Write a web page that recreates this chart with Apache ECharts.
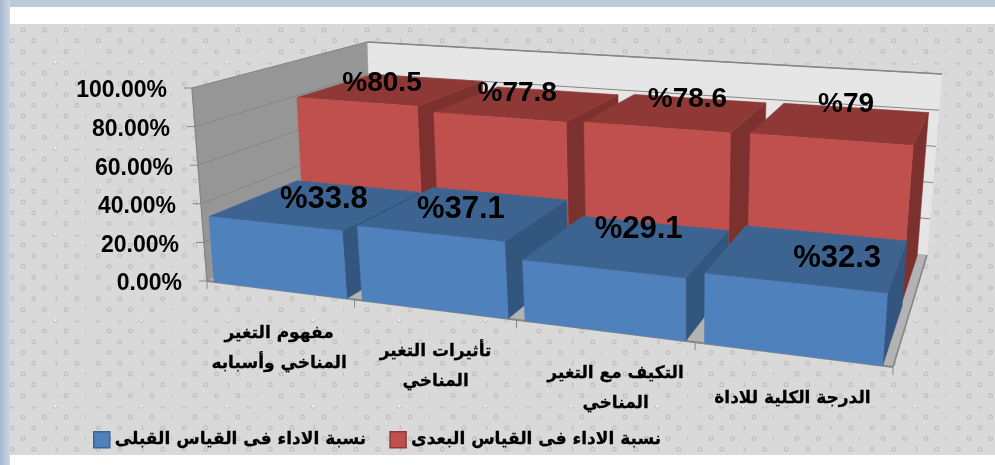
<!DOCTYPE html>
<html><head><meta charset="utf-8">
<style>html,body{margin:0;padding:0;background:#fff}#c{width:995px;height:465px}</style>
<script src="https://cdn.jsdelivr.net/npm/echarts@6/dist/echarts.min.js"></script>
</head><body><div id="c"></div>
<script>
var categories = ['مفهوم التغير\nالمناخي وأسبابه','تأثيرات التغير\nالمناخي','التكيف مع التغير\nالمناخي','الدرجة الكلية للاداة'];
var beforeName = 'نسبة الاداء فى القياس القبلى';
var afterName = 'نسبة الاداء فى القياس البعدى';
var beforeValues = [33.8,37.1,29.1,32.3];
var afterValues = [80.5,77.8,78.6,79];
var yTicks = [0,20,40,60,80,100];

// projection frame: floor and top corners of the 3D box (front-left, front-right, back-right, back-left)
var FLOOR=[[207,281],[893,367],[927,255],[372,202]];
var TOP=[[192,88],[909,143],[942,74],[367,42]];
var GRID={left:207,top:88,width:686,height:193};

function homog(q){
  var x0=q[0][0],y0=q[0][1],x1=q[1][0],y1=q[1][1],x2=q[2][0],y2=q[2][1],x3=q[3][0],y3=q[3][1];
  var dx1=x1-x2,dx2=x3-x2,sx=x0-x1+x2-x3,dy1=y1-y2,dy2=y3-y2,sy=y0-y1+y2-y3;
  var det=dx1*dy2-dx2*dy1;
  var g=(sx*dy2-dx2*sy)/det,h=(dx1*sy-sx*dy1)/det;
  var a=x1-x0+g*x1,b=x3-x0+h*x3,c=x0,d=y1-y0+g*y1,e=y3-y0+h*y3,f=y0;
  return function(u,v){var w=g*u+h*v+1;return [(a*u+b*v+c)/w,(d*u+e*v+f)/w];};
}
var H0=homog(FLOOR),H1=homog(TOP);
function P(u,d,h){var a=H0(u,d),b=H1(u,d);return [a[0]+(b[0]-a[0])*h,a[1]+(b[1]-a[1])*h];}
function poly(pts,fill,stroke,lw){return {type:'polygon',shape:{points:pts},style:{fill:fill,stroke:stroke||fill,lineWidth:lw==null?0.6:lw},silent:true};}
function line(a,b,c,w){return {type:'line',shape:{x1:a[0],y1:a[1],x2:b[0],y2:b[1]},style:{stroke:c,lineWidth:w||1,fill:null},silent:true};}

function tile(){
  var c=document.createElement('canvas');c.width=86;c.height=86;var x=c.getContext('2d');
  x.fillStyle='#d9d9d9';x.fillRect(0,0,86,86);
  x.lineWidth=1.2;
  for(var r=0;r<8;r++){
    var y=(30+10.75*r)%86, x0=(r%2?12.25:23);
    for(var k=0;k<4;k++){
      var px=x0+21.5*k;
      x.strokeStyle='#c0c0c0';
      x.beginPath();
      if(r===3){x.arc(px,y,1.9,0,Math.PI);}
      else if(r%2&&k===2){x.arc(px,y,1.9,-Math.PI/2,Math.PI/2);}
      else {x.arc(px,y,1.9,0,Math.PI*2);}
      x.stroke();
      if(r===3&&k===2){x.fillStyle='#f4f4f4';x.fillRect(px-1,y-1,2,2);}
    }
  }
  return c;
}

function barRender(row,frac,labelFont,offsets,cols){
  return function(params,api){
    var i=api.value(0),v=api.value(1);
    var p=api.coord([i,v]),band=api.size([1,0])[0];
    var u0=(p[0]-band*frac/2-GRID.left)/GRID.width,u1=(p[0]+band*frac/2-GRID.left)/GRID.width;
    var h=(GRID.top+GRID.height-p[1])/GRID.height;
    var d0=row[0],d1=row[1];
    var fb0=P(u0,d0,0),fb1=P(u1,d0,0),ft0=P(u0,d0,h),ft1=P(u1,d0,h),bt0=P(u0,d1,h),bt1=P(u1,d1,h),bb1=P(u1,d1,0);
    var c=P((u0+u1)/2,(d0+d1)/2,h);
    return {type:'group',children:[
      poly([fb1,bb1,bt1,ft1],cols[2]),
      poly([ft0,ft1,bt1,bt0],cols[1]),
      poly([fb0,fb1,ft1,ft0],cols[0]),
      {type:'text',z2:10,style:{x:c[0]+offsets[i][0],y:c[1]+offsets[i][1],text:'%'+v,font:labelFont,fill:'#000',align:'center',verticalAlign:'middle'}}
    ]};
  };
}
function wallRender(params,api){
  var ch=[];
  var L=[P(0,0,0),P(0,0,1),P(0,1,1),P(0,1,0)];
  var B=[P(0,1,0),P(0,1,1),P(1,1,1),P(1,1,0)];
  var F=[P(0,0,0),P(1,0,0),P(1,1,0),P(0,1,0)];
  ch.push(poly(B,'#e6e6e6','#e6e6e6'));
  ch.push(poly(L,'#969696','#969696'));
  ch.push(poly(F,'#b3b3b3','#b3b3b3'));
  yTicks.forEach(function(t){
    var y=api.coord([0,t])[1],h=(GRID.top+GRID.height-y)/GRID.height;
    var a=P(0,0,h),b=P(0,1,h),c=P(1,1,h);
    ch.push(line([a[0]-8,a[1]],a,'#868686',1));
    if(t>0&&t<100)ch.push(line(a,b,'#868686',1));
    if(t>0)ch.push(line(b,c,'#868686',1));
  });
  ch.push(line(P(0,0,0),P(0,0,1),'#868686',1.4));
  ch.push(line(P(0,0,1),P(0,1,1),'#868686',1));
  ch.push(line(P(0,1,1),P(1,1,1),'#868686',1.4));
  ch.push(line(P(0,0,0),P(1,0,0),'#868686',2));
  ch.push(line(P(1,0,0),P(1,1,0),'#868686',1.6));
  for(var i=0;i<=categories.length;i++){
    var u=i/categories.length,a=P(u,0,0);
    ch.push(line(a,[a[0],a[1]+8],'#868686',1));
  }
  return {type:'group',children:ch};
}
var catOffsets=[[0,59],[2,57],[12,58],[1,44]];
function catRender(params,api){
  var i=api.value(0),p=api.coord([i,0]);
  var a=P((p[0]-GRID.left)/GRID.width,0,0);
  return {type:'text',style:{x:a[0]+catOffsets[i][0],y:a[1]+catOffsets[i][1],text:categories[i],font:'bold 17px "DejaVu Sans"',lineHeight:30,fill:'#000',stroke:'#000',lineWidth:0.3,align:'center',verticalAlign:'middle'}};
}

var blueCols=['#4f81bd','#3d6491','#33567f'];
var redCols=['#c0504d','#8f3937','#7d312f'];
function rows(vals){return vals.map(function(v,i){return [i,v];});}
var spacer={};yTicks.forEach(function(t,i){spacer['p'+i]={padding:[6,25+i*3,0,0],fontSize:23,fontWeight:'bold',fontFamily:'Liberation Sans',color:'#000'};});

var chart=echarts.init(document.getElementById('c'),null,{renderer:'canvas'});
chart.setOption({
  animation:false,
  graphic:{elements:[
    {type:'rect',z:-10,shape:{x:0,y:0,width:995,height:465},style:{fill:'#fff'},silent:true},
    {type:'rect',z:-9,shape:{x:10,y:24,width:985,height:431},style:{fill:{image:tile(),repeat:'repeat'}},silent:true},
    {type:'rect',z:-9,shape:{x:0,y:0,width:995,height:7},style:{fill:'#bccadb'},silent:true},
    {type:'rect',z:-9,shape:{x:0,y:0,width:10,height:465},style:{fill:new echarts.graphic.LinearGradient(0,0,1,0,[{offset:0,color:'#a6b7cc'},{offset:1,color:'#cdd7e3'}])},silent:true}
  ]},
  grid:{left:GRID.left,top:GRID.top,width:GRID.width,height:GRID.height,show:false},
  xAxis:{type:'category',data:categories,show:false},
  yAxis:{type:'value',min:0,max:100,interval:20,axisLine:{show:false},axisTick:{show:false},splitLine:{show:false},
    axisLabel:{margin:0,formatter:function(v){return '{p'+(v/20)+'|'+v.toFixed(2)+'%}';},rich:spacer}},
  legend:{left:93,top:431,padding:0,icon:'rect',itemWidth:16,itemHeight:16,itemGap:23,textStyle:{fontSize:17,fontWeight:'bold',fontFamily:'DejaVu Sans',color:'#000',textBorderColor:'#000',textBorderWidth:0.3},
    data:[{name:beforeName,itemStyle:{color:blueCols[0],borderColor:'#3d6491',borderWidth:1.5}},{name:afterName,itemStyle:{color:redCols[0],borderColor:'#8f3937',borderWidth:1.5}}]},
  series:[
    {type:'custom',name:'walls',silent:true,z:1,renderItem:wallRender,data:[[0,0]],clip:false},
    {type:'custom',name:afterName,z:2,itemStyle:{color:redCols[0]},renderItem:barRender([0.49,0.98],0.885,'bold 28px "Liberation Sans"',[[-11,-6],[-12,-10],[9,-13],[3,-18]],redCols),data:rows(afterValues),encode:{x:0,y:1},clip:false},
    {type:'custom',name:beforeName,z:3,itemStyle:{color:blueCols[0]},renderItem:barRender([0,0.47],0.9,'bold 31px "Liberation Sans"',[[6,-4],[-5,-3],[9,-15],[27,2]],blueCols),data:rows(beforeValues),encode:{x:0,y:1},clip:false},
    {type:'custom',name:'cats',silent:true,z:4,renderItem:catRender,data:categories.map(function(c,i){return [i,0];}),clip:false}
  ]
});
</script></body></html>
